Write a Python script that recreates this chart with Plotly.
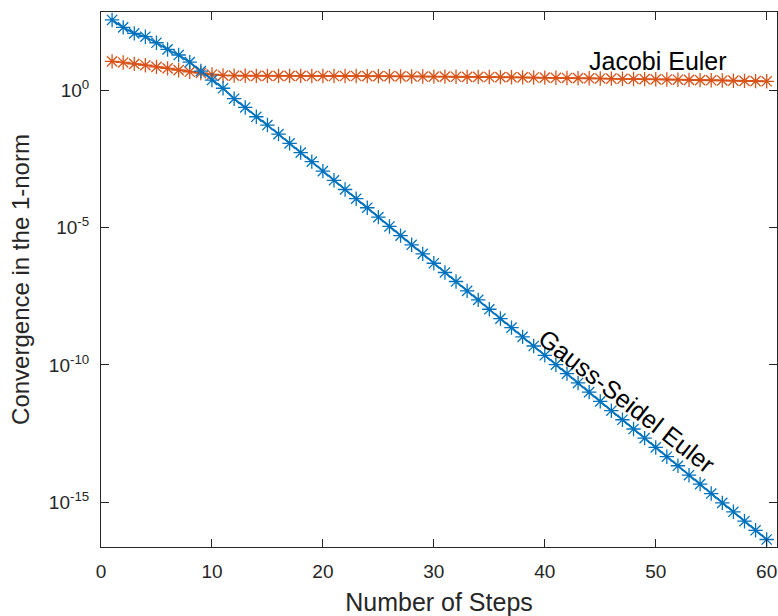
import plotly.graph_objects as go

steps = list(range(1, 61))

gauss_seidel = [
    380, 204, 123, 93, 56, 32, 20, 11, 5.2, 2.45,
    1.23, 0.51, 0.245, 0.112, 0.056, 2.6e-2, 1.2e-2, 5.5e-3, 2.6e-3, 1.17e-3,
    5.4e-4, 2.5e-4, 1.15e-4, 5.4e-5, 2.45e-5, 1.12e-5, 5.2e-6, 2.4e-6, 1.12e-6, 5.1e-7,
    2.35e-7, 1.1e-7, 5.0e-8, 2.35e-8, 1.07e-8, 4.9e-9, 2.3e-9, 1.05e-9, 4.9e-10, 2.24e-10,
    1.02e-10, 4.8e-11, 2.2e-11, 1.02e-11, 4.7e-12, 2.14e-12, 1.0e-12, 4.6e-13, 2.14e-13, 9.8e-14,
    4.5e-14, 2.1e-14, 9.5e-15, 4.5e-15, 2.04e-15, 9.3e-16, 4.4e-16, 2.0e-16, 9.3e-17, 4.3e-17,
]

jacobi = [
    11.7, 10.7, 9.5, 8.5, 7.4, 6.5, 5.6, 4.9, 4.4, 3.9,
    3.6, 3.55, 3.5, 3.48, 3.47, 3.47, 3.46, 3.46, 3.45, 3.45,
    3.44, 3.43, 3.42, 3.41, 3.40, 3.37, 3.34, 3.31, 3.29, 3.27,
    3.25, 3.23, 3.20, 3.18, 3.16, 3.13, 3.10, 3.07, 3.03, 3.00,
    2.96, 2.92, 2.88, 2.84, 2.80, 2.76, 2.72, 2.68, 2.64, 2.60,
    2.56, 2.52, 2.48, 2.44, 2.40, 2.36, 2.32, 2.28, 2.24, 2.20,
]

ytick_vals = [1e-15, 1e-10, 1e-5, 1]
ytick_text = ["10<sup>-15</sup>", "10<sup>-10</sup>", "10<sup>-5</sup>", "10<sup>0</sup>"]
xtick_vals = [0, 10, 20, 30, 40, 50, 60]

BLUE = "#0072BD"
ORANGE = "#D95319"
AX = "#262626"
FONT = "Liberation Sans, Arial, Helvetica, sans-serif"

fig = go.Figure()
fig.add_trace(go.Scatter(
    x=steps, y=jacobi, mode="lines+markers",
    line=dict(color=ORANGE, width=1.8),
    marker=dict(symbol="asterisk-open", size=12, line=dict(color=ORANGE, width=1.3)),
    showlegend=False,
))
fig.add_trace(go.Scatter(
    x=steps, y=gauss_seidel, mode="lines+markers",
    line=dict(color=BLUE, width=1.8),
    marker=dict(symbol="asterisk-open", size=12, line=dict(color=BLUE, width=1.3)),
    showlegend=False,
))

fig.add_annotation(x=50.2, y=1.08, xref="x", yref="y", text="Jacobi Euler",
                   showarrow=False, font=dict(family=FONT, size=25, color="black"))
fig.add_annotation(x=47.4, y=-11.32, xref="x", yref="y", text="Gauss-Seidel Euler",
                   showarrow=False, textangle=38,
                   font=dict(family=FONT, size=25, color="black"))

fig.update_layout(
    width=778, height=616,
    margin=dict(l=101, r=1, t=12, b=69),
    paper_bgcolor="white", plot_bgcolor="white",
    font=dict(family=FONT, color=AX),
)
fig.update_xaxes(
    range=[0, 60.93], tickvals=xtick_vals,
    showline=True, linecolor=AX, linewidth=1, mirror="ticks",
    ticks="inside", ticklen=8, tickcolor=AX, tickwidth=1,
    showgrid=False, zeroline=False,
    tickfont=dict(family=FONT, size=19, color=AX),
    ticklabelstandoff=7,
    title=dict(text="Number of Steps", font=dict(family=FONT, size=25, color=AX), standoff=12),
)
fig.update_yaxes(
    type="log", range=[-16.64, 2.87], tickvals=ytick_vals, ticktext=ytick_text,
    showline=True, linecolor=AX, linewidth=1, mirror="ticks",
    ticks="inside", ticklen=8, tickcolor=AX, tickwidth=1,
    showgrid=False, zeroline=False,
    tickfont=dict(family=FONT, size=19, color=AX),
    ticklabelstandoff=7,
    title=dict(text="Convergence in the 1-norm", font=dict(family=FONT, size=24, color=AX), standoff=12),
)

fig.write_html("out.html")
